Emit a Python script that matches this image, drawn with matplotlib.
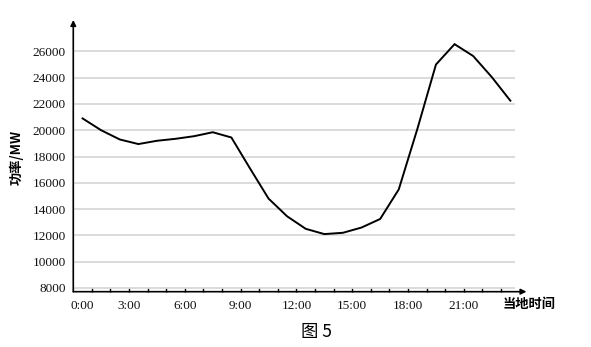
import matplotlib
matplotlib.use("Agg")
import matplotlib.pyplot as plt
from matplotlib.ticker import FixedLocator
import numpy as np

# Données (puissance horaire, MW)
heures = list(range(24))
puissance = [20900, 20000, 19300, 18950, 19200, 19350, 19550, 19850,
             19450, 17100, 14800, 13450, 12500, 12100, 12200, 12600,
             13250, 15500, 20100, 25000, 26550, 25650, 24050, 22250]
etiquettes_x = ["0:00", "3:00", "6:00", "9:00", "12:00", "15:00", "18:00", "21:00"]
graduations_y = list(range(8000, 26001, 2000))

SERIF = ["Liberation Serif", "DejaVu Serif"]
CJK = ["Noto Sans CJK SC", "DejaVu Sans"]


def tracer():
    fig = plt.figure(figsize=(5.91, 3.47), dpi=100)
    ax = fig.add_axes([0.124, 0.1594, 0.7474, 0.783])

    # courbe, points au milieu de chaque intervalle horaire
    x = np.array(heures) + 0.5
    ax.plot(x, puissance, color="black", lw=1.4, solid_joinstyle="miter")

    ax.set_xlim(0, 23.75)
    ax.set_ylim(7718, 28390)

    # grille horizontale
    ax.set_yticks(graduations_y)
    ax.set_yticklabels([str(v) for v in graduations_y], family=SERIF,
                       fontsize=9.5, color="#111111")
    ax.tick_params(axis="y", length=0, pad=5.5)
    ax.grid(axis="y", color="#d6d6d6", lw=1.2)
    ax.set_axisbelow(True)

    # axe x : petites graduations chaque heure, étiquettes toutes les 3 h
    pos_etiq = [x[0]] + [3 * m for m in range(1, len(etiquettes_x))]
    ax.set_xticks(pos_etiq)
    ax.set_xticklabels(etiquettes_x, family=SERIF, fontsize=9.5, color="#111111")
    ax.xaxis.set_minor_locator(FixedLocator(range(1, 24)))
    ax.xaxis.remove_overlapping_locs = False
    ax.tick_params(axis="x", which="major", length=0, pad=6)
    ax.tick_params(axis="x", which="minor", direction="in", length=3, width=1, color="black")

    for s in ax.spines.values():
        s.set_visible(False)

    # axes avec flèches
    fleche = dict(arrowstyle="-|>", color="black", lw=1.2, mutation_scale=8,
                  shrinkA=0, shrinkB=0)
    ax.annotate("", xy=(0, 1.0), xytext=(0, 0), xycoords="axes fraction",
                arrowprops=fleche, annotation_clip=False)
    ax.annotate("", xy=(1.026, 0), xytext=(0, 0), xycoords="axes fraction",
                arrowprops=fleche, annotation_clip=False)

    # textes
    fig.text(17 / 591, 1 - 157 / 347, "功率/MW", rotation=90, family=CJK,
             fontsize=9.5, fontweight="bold", ha="center", va="center")
    fig.text(529 / 591, 1 - 304 / 347, "当地时间", family=CJK,
             fontsize=9.5, fontweight="bold", ha="center", va="center")
    fig.text(316 / 591, 1 - 332 / 347, "图 5", family=CJK,
             fontsize=12.5, ha="center", va="center")

    fig.savefig("out.png", dpi=100, facecolor="white")


if __name__ == "__main__":
    tracer()
